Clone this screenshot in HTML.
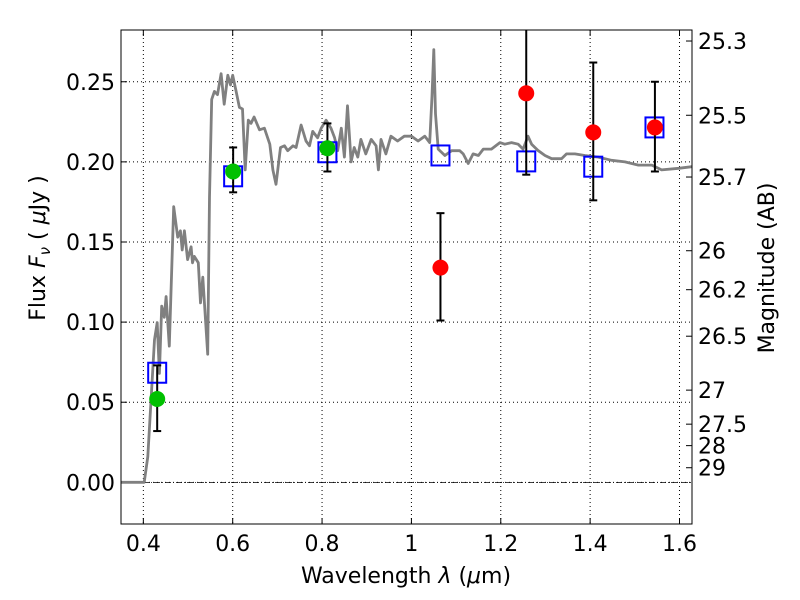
<!DOCTYPE html>
<html><head><meta charset="utf-8"><style>
html,body{margin:0;padding:0;background:#fff}
svg{display:block;font-family:"DejaVu Sans","Liberation Sans",sans-serif}
</style></head><body>
<svg id="chart" width="800" height="600" viewBox="0 0 800 600"></svg>
<script>
// ---- data ----
const specLam = [0.35,0.402,0.410,0.425,0.431,0.436,0.441,0.447,0.451,0.458,0.468,0.477,0.483,0.487,0.492,0.499,0.507,0.510,0.514,0.523,0.528,0.533,0.544,0.548,0.553,0.559,0.566,0.574,0.581,0.589,0.595,0.600,0.607,0.615,0.622,0.628,0.635,0.641,0.648,0.660,0.671,0.683,0.690,0.697,0.707,0.716,0.723,0.735,0.742,0.753,0.764,0.772,0.779,0.790,0.798,0.809,0.820,0.828,0.835,0.843,0.850,0.857,0.865,0.872,0.880,0.887,0.898,0.910,0.921,0.926,0.932,0.943,0.954,0.969,0.984,1.000,1.015,1.030,1.041,1.046,1.050,1.054,1.060,1.075,1.090,1.108,1.116,1.127,1.138,1.150,1.161,1.179,1.198,1.209,1.224,1.239,1.250,1.261,1.269,1.284,1.299,1.314,1.336,1.347,1.366,1.388,1.418,1.448,1.478,1.508,1.538,1.560,1.598,1.628];
const specFlux = [0,0,0.016,0.089,0.0997,0.068,0.110,0.103,0.116,0.085,0.172,0.153,0.157,0.145,0.157,0.139,0.147,0.137,0.141,0.137,0.112,0.128,0.080,0.178,0.239,0.244,0.242,0.255,0.236,0.254,0.248,0.254,0.245,0.234,0.233,0.195,0.226,0.224,0.228,0.220,0.221,0.211,0.195,0.186,0.209,0.210,0.207,0.210,0.209,0.223,0.213,0.210,0.219,0.215,0.221,0.226,0.221,0.215,0.207,0.221,0.203,0.235,0.200,0.209,0.203,0.214,0.205,0.214,0.210,0.195,0.214,0.205,0.216,0.213,0.216,0.216,0.213,0.216,0.212,0.241,0.270,0.230,0.208,0.204,0.207,0.207,0.205,0.199,0.205,0.204,0.208,0.208,0.212,0.211,0.212,0.211,0.208,0.216,0.211,0.207,0.204,0.202,0.202,0.205,0.205,0.204,0.203,0.201,0.200,0.198,0.198,0.195,0.196,0.197];
const greenLam = [0.431,0.601,0.812];
const greenFlux = [0.052,0.194,0.2085];
const greenLo = [0.032,0.181,0.194];
const greenHi = [0.073,0.209,0.224];
const redLam = [1.065,1.257,1.407,1.545];
const redFlux = [0.134,0.2428,0.2184,0.2215];
const redLo = [0.101,0.192,0.176,0.194];
const redHi = [0.168,0.30,0.262,0.250];
const sqLam = [0.431,0.601,0.812,1.065,1.257,1.407,1.544];
const sqFlux = [0.0684,0.191,0.206,0.204,0.2003,0.197,0.2215];
const xTicks = [0.4,0.6,0.8,1.0,1.2,1.4,1.6];
const xTickLabels = ["0.4","0.6","0.8","1","1.2","1.4","1.6"];
const yTicks = [0,0.05,0.10,0.15,0.20,0.25];
const yTickLabels = ["0.00","0.05","0.10","0.15","0.20","0.25"];
const magTicks = [25.3,25.5,25.7,26,26.2,26.5,27,27.5,28,29];
const magLabels = ["25.3","25.5","25.7","26","26.2","26.5","27","27.5","28","29"];

// ---- axes ----
const L=121,R=692,T=30,B=524;
const xmin=0.35,xmax=1.628,ymin=-0.026,ymax=0.2823;
const X=v=>L+(v-xmin)/(xmax-xmin)*(R-L);
const Y=v=>B-(v-ymin)/(ymax-ymin)*(B-T);
const magY=m=>Y(Math.pow(10,(23.9-m)/2.5));
const NS="http://www.w3.org/2000/svg";
const svg=document.getElementById('chart');
function mk(tag,attrs,parent){const e=document.createElementNS(NS,tag);for(const k in attrs)e.setAttribute(k,attrs[k]);(parent||svg).appendChild(e);return e;}

const clip=mk('clipPath',{id:'pc'});mk('rect',{x:L,y:T,width:R-L,height:B-T},clip);
const FS=22;

// grid
xTicks.forEach((v,i)=>{
  const g=mk('line',{x1:X(v),x2:X(v),y1:T,y2:B,stroke:'#000','stroke-width':1,'stroke-dasharray':'1,3'});
  
  
  const t=mk('line',{x1:X(v),x2:X(v),y1:B,y2:B-6,stroke:'#000'});
  
  
  mk('line',{x1:X(v),x2:X(v),y1:T,y2:T+6,stroke:'#000'});
  const l=mk('text',{x:X(v),y:B+27,'text-anchor':'middle','font-size':FS});
  l.textContent=xTickLabels[i];
  
  
});
yTicks.forEach((v,i)=>{
  const g=mk('line',{x1:L,x2:R,y1:Y(v),y2:Y(v),stroke:'#000','stroke-width':1,'stroke-dasharray':'1,3'});
  
  
  const t=mk('line',{x1:L,x2:L+6,y1:Y(v),y2:Y(v),stroke:'#000'});
  
  
  const l=mk('text',{x:L-6,y:Y(v)+8,'text-anchor':'end','font-size':FS});
  l.textContent=yTickLabels[i];
  
  
});
const zl=mk('line',{x1:L,x2:R,y1:Y(0),y2:Y(0),stroke:'#000','stroke-width':0.8,'stroke-dasharray':'6,2,1,2'});



// magnitude axis
magTicks.forEach((m,i)=>{
  const t=mk('line',{x1:R,x2:R-6,y1:magY(m),y2:magY(m),stroke:'#000'});
  
  
  const l=mk('text',{x:R+6,y:magY(m)+8,'font-size':FS});
  l.textContent=magLabels[i];
  
  
});

// spectrum
let d='';
specLam.forEach((v,i)=>{d+=(i?'L':'M')+X(v).toFixed(1)+','+Y(specFlux[i]).toFixed(1);});
const sp=mk('path',{d:d,fill:'none',stroke:'#808080','stroke-width':2.8,'stroke-linejoin':'round','clip-path':'url(#pc)'});



// squares
sqLam.forEach((v,i)=>{
  const r=mk('rect',{x:X(v)-9,y:Y(sqFlux[i])-10,width:18,height:20,fill:'none',stroke:'#0000ff','stroke-width':2});
  
  
});

function errs(lam,fl,lo,hi,color,name){
  lam.forEach((v,i)=>{
    const g=mk('g',{'clip-path':'url(#pc)'});
    
    
    mk('line',{x1:X(v),x2:X(v),y1:Y(lo[i]),y2:Y(hi[i]),stroke:'#000','stroke-width':2},g);
    mk('line',{x1:X(v)-4,x2:X(v)+4,y1:Y(lo[i]),y2:Y(lo[i]),stroke:'#000','stroke-width':2},g);
    mk('line',{x1:X(v)-4,x2:X(v)+4,y1:Y(hi[i]),y2:Y(hi[i]),stroke:'#000','stroke-width':2},g);
    const c=mk('circle',{cx:X(v),cy:Y(fl[i]),r:8,fill:color});
    
    
  });
}
errs(greenLam,greenFlux,greenLo,greenHi,'#00c000','green-photometry');
errs(redLam,redFlux,redLo,redHi,'#ff0000','red-photometry');

// frame
const fr=mk('rect',{x:L,y:T,width:R-L,height:B-T,fill:'none',stroke:'#000','stroke-width':1});



// axis titles
const xt=mk('text',{x:406,y:583,'text-anchor':'middle','font-size':22});
xt.innerHTML='Wavelength  <tspan font-style="italic">λ</tspan> (<tspan font-style="italic">μ</tspan>m)';


const yt=mk('text',{x:0,y:0,'text-anchor':'middle','font-size':22,transform:'translate(45,248) rotate(-90)'});
yt.innerHTML='Flux  <tspan font-style="italic">F</tspan><tspan font-style="italic" font-size="15" dy="5">ν</tspan><tspan dy="-5">  (  </tspan><tspan font-style="italic">μ</tspan>Jy )';


const rt=mk('text',{x:0,y:0,'text-anchor':'middle','font-size':22,transform:'translate(774,268) rotate(-90)'});
rt.textContent='Magnitude (AB)';


</script>
</body></html>
